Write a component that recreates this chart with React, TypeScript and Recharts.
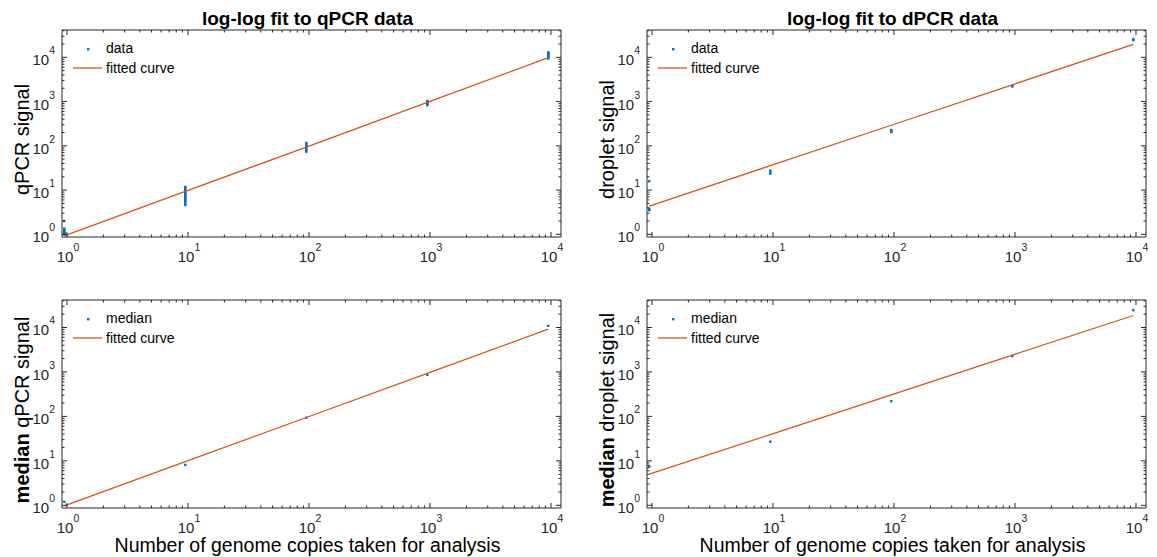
import { ScatterChart, Scatter, XAxis, YAxis, ReferenceArea, Legend } from "recharts";

// genome copies per sample (x positions of each group)
const copies = [0.95, 9.5, 95, 950, 9500];

// raw replicate signals, one list per copy level
const qpcrData = [
  [1.0, 1.05, 1.1, 1.15, 1.2, 1.25, 1.35, 2.0],
  [4.6, 5.0, 5.4, 5.8, 6.2, 6.6, 7.0, 7.5, 8.0, 8.5, 9.0, 9.6, 10.3, 11.0, 11.8],
  [74, 80, 86, 92, 98, 104, 110, 116],
  [830, 870, 910, 950, 990, 1030],
  [9400, 9900, 10400, 10900, 11400, 11900, 12400, 13000],
];
const dpcrData = [
  [3.5, 3.7, 15.8],
  [23.5, 25, 27.5],
  [205, 215, 228],
  [2200, 2300],
  [24500, 25800],
];

// medians
const qpcrMedian = [1.2, 8.1, 93, 865, 10900];
const dropletMedian = [7.5, 27, 220, 2270, 24600];

// fitted curves read at each copy level
const qpcrFit = [0.92, 9.3, 94, 960, 9800];
const dpcrFit = [4.34, 35.6, 292, 2400, 19700];
const qpcrMedianFit = [0.97, 9.57, 94.4, 931, 9190];
const dropletMedianFit = [5.0, 38.9, 305, 2390, 18600];

const xDomain: [number, number] = [0.91, 12100];
const yDomain: [number, number] = [0.87, 41500];
const decades = [1, 10, 100, 1000, 10000];
const steps = [1, 2, 3, 4, 5, 6, 7, 8, 9];

const BLUE = "#0072BD";
const ORANGE = "#D95319";
const AXIS = "#262626";
const FONT = "'Liberation Sans', Arial, Helvetica, sans-serif";

const allTicks = decades.flatMap((d) => steps.map((s) => d * s));
const xTicks = allTicks.filter((v) => v >= xDomain[0] && v <= xDomain[1]);
const yTicks = allTicks.filter((v) => v >= yDomain[0] && v <= yDomain[1]);

const isMajor = (v: number) => Math.abs(Math.log10(v) - Math.round(Math.log10(v))) < 1e-9;

function XTick(props: any) {
  const { x, y, payload, plotH } = props;
  const v = payload.value;
  const major = isMajor(v);
  const len = major ? 5 : 2.5;
  return (
    <g>
      <line x1={x} x2={x} y1={y} y2={y - len} stroke={AXIS} />
      <line x1={x} x2={x} y1={y - plotH} y2={y - plotH + len} stroke={AXIS} />
      {major && (
        <text x={x + 1} y={y + 25} textAnchor="middle" fontSize={15} fill={AXIS} fontFamily={FONT}>
          10
          <tspan dy={-11} fontSize={10.5}>
            {Math.round(Math.log10(v))}
          </tspan>
        </text>
      )}
    </g>
  );
}

function YTick(props: any) {
  const { x, y, payload, plotW } = props;
  const v = payload.value;
  const major = isMajor(v);
  const len = major ? 5 : 2.5;
  return (
    <g>
      <line x1={x} x2={x + len} y1={y} y2={y} stroke={AXIS} />
      <line x1={x + plotW} x2={x + plotW - len} y1={y} y2={y} stroke={AXIS} />
      {major && (
        <text x={x - 7} y={y + 8} textAnchor="end" fontSize={15} fill={AXIS} fontFamily={FONT}>
          10
          <tspan dy={-11} fontSize={10.5}>
            {Math.round(Math.log10(v))}
          </tspan>
        </text>
      )}
    </g>
  );
}

type PanelProps = {
  left: number;
  top: number;
  width: number;
  height: number;
  margin: { top: number; right: number; bottom: number; left: number };
  title?: string;
  yBold?: string;
  yText: string;
  xLabel?: string;
  points: { x: number; y: number }[];
  fit: { x: number; y: number }[];
  pointName: string;
};

function Panel(p: PanelProps) {
  const yAxisW = 40;
  const xAxisH = 40;
  const plotW = p.width - p.margin.left - p.margin.right - yAxisW;
  const plotH = p.height - p.margin.top - p.margin.bottom - xAxisH;
  const plotLeft = p.margin.left + yAxisW;

  return (
    <div style={{ position: "absolute", left: p.left, top: p.top, width: p.width, height: p.height }}>
      {p.title && (
        <div
          style={{
            position: "absolute",
            left: plotLeft - 4,
            width: plotW,
            top: 9,
            textAlign: "center",
            fontWeight: "bold",
            fontSize: 19,
            lineHeight: "19px",
            color: "#000",
            fontFamily: FONT,
          }}
        >
          {p.title}
        </div>
      )}
      <ScatterChart width={p.width} height={p.height} margin={p.margin}>
        <XAxis
          type="number"
          dataKey="x"
          scale="log"
          domain={xDomain}
          allowDataOverflow
          ticks={xTicks}
          interval={0}
          axisLine={false}
          tickLine={false}
          tickSize={0}
          tickMargin={0}
          height={xAxisH}
          tick={(t: any) => <XTick {...t} plotH={plotH} />}
          label={
            p.xLabel
              ? {
                  content: (lp: any) => {
                    const vb = lp.viewBox || {};
                    return (
                      <text
                        x={vb.x + vb.width / 2 - 4}
                        y={vb.y + 44}
                        textAnchor="middle"
                        fontSize={19.5}
                        fill="#000"
                        fontFamily={FONT}
                      >
                        {p.xLabel}
                      </text>
                    );
                  },
                }
              : undefined
          }
        />
        <YAxis
          type="number"
          dataKey="y"
          scale="log"
          domain={yDomain}
          allowDataOverflow
          ticks={yTicks}
          interval={0}
          axisLine={false}
          tickLine={false}
          tickSize={0}
          tickMargin={0}
          width={yAxisW}
          tick={(t: any) => <YTick {...t} plotW={plotW} />}
          label={{
            content: (lp: any) => {
              const vb = lp.viewBox || {};
              const cx = vb.x + vb.width - 33;
              const cy = vb.y + vb.height / 2 + 6;
              return (
                <text
                  x={cx}
                  y={cy}
                  transform={`rotate(-90 ${cx} ${cy})`}
                  textAnchor="middle"
                  fontSize={20}
                  fill="#000"
                  fontFamily={FONT}
                >
                  {p.yBold && <tspan fontWeight="bold">{p.yBold} </tspan>}
                  {p.yText}
                </text>
              );
            },
          }}
        />
        <ReferenceArea
          x1={xDomain[0]}
          x2={xDomain[1]}
          y1={yDomain[0]}
          y2={yDomain[1]}
          fill="none"
          fillOpacity={0}
          stroke={AXIS}
          strokeWidth={1}
          strokeOpacity={1}
          ifOverflow="visible"
        />
        <Scatter
          data={p.points}
          isAnimationActive={false}
          shape={(s: any) => <rect x={s.cx - 1.2} y={s.cy - 1.2} width={2.4} height={2.4} fill={BLUE} />}
        />
        <Scatter
          data={p.fit}
          isAnimationActive={false}
          line={{ stroke: ORANGE, strokeWidth: 1.3 }}
          shape={() => <g />}
        />
        <Legend
          layout="vertical"
          align="center"
          verticalAlign="middle"
          wrapperStyle={{ left: plotLeft, top: p.margin.top, width: 170, height: 52 }}
          content={() => (
            <svg width={170} height={52} style={{ display: "block" }}>
              <rect x={25} y={18} width={2.4} height={2.4} fill={BLUE} />
              <text x={44} y={23} fontSize={14} fill="#000" fontFamily={FONT}>
                {p.pointName}
              </text>
              <line x1={11} x2={40} y1={38} y2={38} stroke={ORANGE} strokeWidth={1.3} />
              <text x={44} y={43} fontSize={14} fill="#000" fontFamily={FONT}>
                fitted curve
              </text>
            </svg>
          )}
        />
      </ScatterChart>
    </div>
  );
}

const groups = (vals: number[][]) => copies.flatMap((c, i) => vals[i].map((v) => ({ x: c, y: v })));
const series = (vals: number[]) => copies.map((c, i) => ({ x: c, y: vals[i] }));

export default function App() {
  return (
    <div
      style={{
        position: "absolute",
        left: 0,
        top: 0,
        width: 1157,
        height: 557,
        background: "#fff",
        fontFamily: FONT,
      }}
    >
      <Panel
        left={0}
        top={0}
        width={580}
        height={290}
        margin={{ top: 30, right: 19, bottom: 13, left: 22 }}
        title="log-log fit to qPCR data"
        yText="qPCR signal"
        points={groups(qpcrData)}
        fit={series(qpcrFit)}
        pointName="data"
      />
      <Panel
        left={580}
        top={0}
        width={577}
        height={290}
        margin={{ top: 30, right: 11, bottom: 13, left: 27 }}
        title="log-log fit to dPCR data"
        yText="droplet signal"
        points={groups(dpcrData)}
        fit={series(dpcrFit)}
        pointName="data"
      />
      <Panel
        left={0}
        top={280}
        width={580}
        height={277}
        margin={{ top: 20, right: 19, bottom: 9, left: 22 }}
        yBold="median"
        yText="qPCR signal"
        xLabel="Number of genome copies taken for analysis"
        points={series(qpcrMedian)}
        fit={series(qpcrMedianFit)}
        pointName="median"
      />
      <Panel
        left={580}
        top={280}
        width={577}
        height={277}
        margin={{ top: 20, right: 11, bottom: 9, left: 27 }}
        yBold="median"
        yText="droplet signal"
        xLabel="Number of genome copies taken for analysis"
        points={series(dropletMedian)}
        fit={series(dropletMedianFit)}
        pointName="median"
      />
    </div>
  );
}
